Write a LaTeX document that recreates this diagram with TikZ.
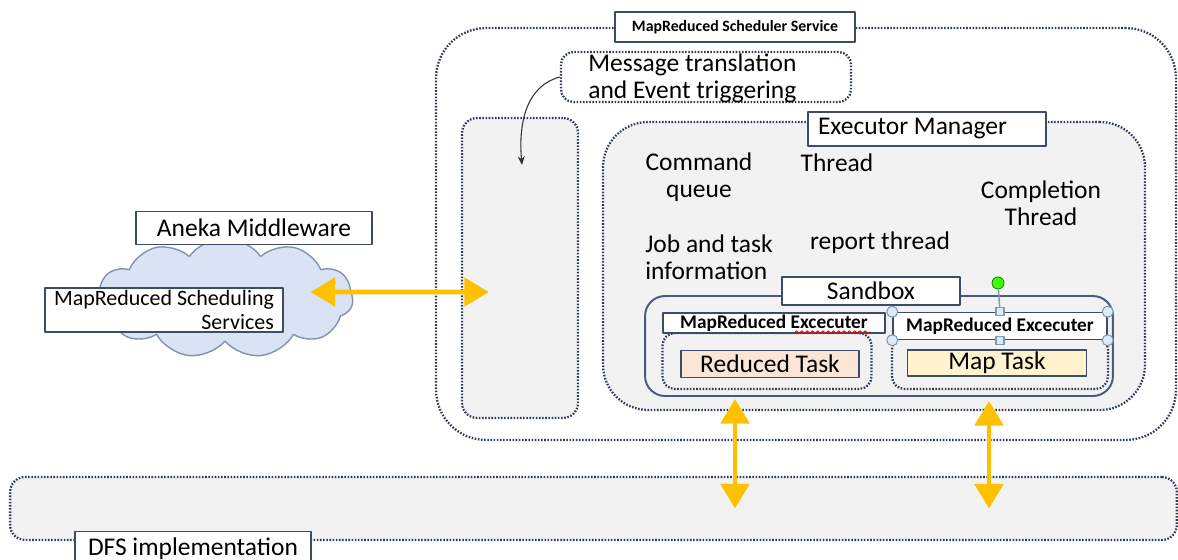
\documentclass[tikz,border=0pt]{standalone}
\usepackage{fontspec}
\setmainfont{Carlito}
\usetikzlibrary{arrows.meta,shapes.symbols,decorations.pathmorphing}
\definecolor{dotline}{HTML}{2B3A5A}
\definecolor{lblline}{HTML}{3E4B66}
\definecolor{boxgray}{HTML}{F2F2F2}
\definecolor{sandline}{HTML}{4A5A78}
\definecolor{arrowyellow}{HTML}{FFC000}
\definecolor{cloudfill}{HTML}{DAE3F3}
\definecolor{cloudline}{HTML}{7F93B2}
\definecolor{peach}{HTML}{FBE5D6}
\definecolor{lightyellow}{HTML}{FFF2CC}
\definecolor{handlefill}{HTML}{DDEBF7}
\definecolor{handleline}{HTML}{7A9AB8}

\begin{document}
\begin{tikzpicture}[x=0.02cm,y=-0.02cm,line join=round,
  dotbox/.style={draw=dotline,line width=1.3pt,dash pattern=on 0.9pt off 0.9pt,fill=boxgray,inner sep=0pt},
  lblbox/.style={draw=lblline,line width=0.85pt,fill=white,inner sep=0pt,font=\fontsize{14.5}{15.5}\selectfont},
  boldlbl/.style={lblbox,font=\bfseries\fontsize{11}{12}\selectfont},
  plain/.style={font=\fontsize{14.5}{15.5}\selectfont,inner sep=0pt},
  taskbox/.style={draw=lblline,line width=0.85pt,inner sep=0pt,minimum height=0.55cm,font=\fontsize{14.5}{15.5}\selectfont},
  yarrow/.style={draw=arrowyellow,line width=2.8pt,{Triangle[length=14pt,width=16pt]}-{Triangle[length=14pt,width=16pt]}},
  handle/.style={draw=handleline,fill=handlefill,line width=0.6pt,inner sep=0pt}]
  \useasboundingbox (0,0) rectangle (1178,560);
  \clip (0,0) rectangle (1178,560);
  \node[dotbox,fill=white,rounded corners=1cm,minimum width=14.8cm,minimum height=8.24cm] (sched) at (806,234) {};
  \node[lblbox,font=\bfseries\fontsize{9}{11}\selectfont,minimum width=4.8cm,minimum height=0.6cm] (schedlbl) at (735,27) {MapReduced Scheduler Service};
  \node[dotbox,fill=white,rounded corners=0.25cm,minimum width=5.8cm,minimum height=1cm] (msg) at (706,77) {};
  \node[plain,align=flush left,anchor=west] (msgtxt) at (588,78) {Message translation\\and Event triggering};
  \node[dotbox,rounded corners=0.3cm,minimum width=2.32cm,minimum height=6cm] (relay) at (520,268) {};
  \coordinate (relayin) at (522,165);
  \draw[-{Stealth[length=5pt,width=4pt]},line width=0.6pt,black!80] (msg.west) to[out=195,in=95] (relayin);
  \node[dotbox,rounded corners=0.9cm,minimum width=10.84cm,minimum height=5.76cm] (exec) at (874,266) {};
  \node[lblbox,text width=4.36cm,inner xsep=0.2cm,align=flush left,minimum height=0.68cm] (execlbl) at (927,129) {Executor Manager};
  \node[plain,align=center] (cmdq) at (699,177) {Command\\queue};
  \node[plain] (thr) at (837,163) {Thread};
  \node[plain,align=center] (compl) at (1041,203) {Completion\\Thread};
  \node[plain,align=flush left,anchor=west] (jobinfo) at (645,257) {Job and task\\information};
  \node[plain] (report) at (880,243) {report thread};
  \node[draw=sandline,line width=1.1pt,fill=boxgray,rounded corners=0.4cm,minimum width=9.36cm,minimum height=2cm] (sandbox) at (879,346) {};
  \node[lblbox,minimum width=3.56cm,minimum height=0.56cm] (sandlbl) at (871,291) {Sandbox};
  \node[dotbox,rounded corners=0.25cm,minimum width=4.18cm,minimum height=1.12cm] (redexec) at (767,361) {};
  \node[boldlbl,minimum width=4.44cm,minimum height=0.4cm] (redlbl) at (774,323) {MapReduced Excecuter};
  \draw[red,line width=0.5pt,decorate,decoration={snake,amplitude=0.7pt,segment length=3pt}] (795,332) -- (870,332);
  \node[taskbox,fill=peach,minimum width=3.56cm] (redtask) at (770,364) {Reduced Task};
  \node[dotbox,rounded corners=0.25cm,minimum width=4.32cm,minimum height=1.04cm] (mapexec) at (1000,363) {};
  \node[boldlbl,minimum width=4.28cm,minimum height=0.54cm] (maplbl) at (1000,326) {MapReduced Excecuter};
  \node[taskbox,fill=lightyellow,minimum width=3.58cm,minimum height=0.52cm] (maptask) at (997,363) {Map Task};
  \node[circle,draw=green!45!black,fill=green!75!yellow,inner sep=0pt,minimum size=0.24cm] (rot) at (998,283) {};
  \draw[handleline,line width=0.8pt] (rot) -- (maplbl.north);
  \foreach \a in {north west,north east,south west,south east}
    \node[handle,circle,minimum size=0.22cm] at (maplbl.\a) {};
  \foreach \a in {north,south}
    \node[handle,minimum size=0.16cm] at (maplbl.\a) {};
  \node[cloud,cloud puffs=11,cloud puff arc=110,aspect=2.2,draw=cloudline,fill=cloudfill,line width=0.8pt,minimum width=5.12cm,minimum height=2.4cm,inner sep=0pt] (cloud) at (225,298) {};
  \node[lblbox,minimum width=4.72cm,minimum height=0.66cm] (aneka) at (254,228) {Aneka Middleware};
  \node[lblbox,font=\fontsize{12.5}{14}\selectfont,minimum width=4.76cm,minimum height=0.88cm,inner xsep=0.1cm,align=flush right] (svc) at (164,310) {MapReduced Scheduling\\Services};
  \draw[yarrow] ([xshift=-0.86cm,yshift=0.12cm]cloud.east) -- ([xshift=0.56cm,yshift=-0.48cm]relay.west);
  \node[dotbox,rounded corners=0.3cm,minimum width=23.34cm,minimum height=1.26cm] (dfs) at (593.5,508.5) {};
  \node[lblbox,anchor=north,minimum width=4.72cm,inner ysep=0.12cm] (dfslbl) at (193,531) {DFS implementation};
  \draw[yarrow] ([xshift=-2.88cm,yshift=-0.04cm]sandbox.south) -- ([xshift=-2.88cm]sandbox.south |- dfs.center);
  \draw[yarrow] ([xshift=2.2cm,yshift=-0.08cm]sandbox.south) -- ([xshift=2.2cm]sandbox.south |- dfs.center);
\end{tikzpicture}
\end{document}
